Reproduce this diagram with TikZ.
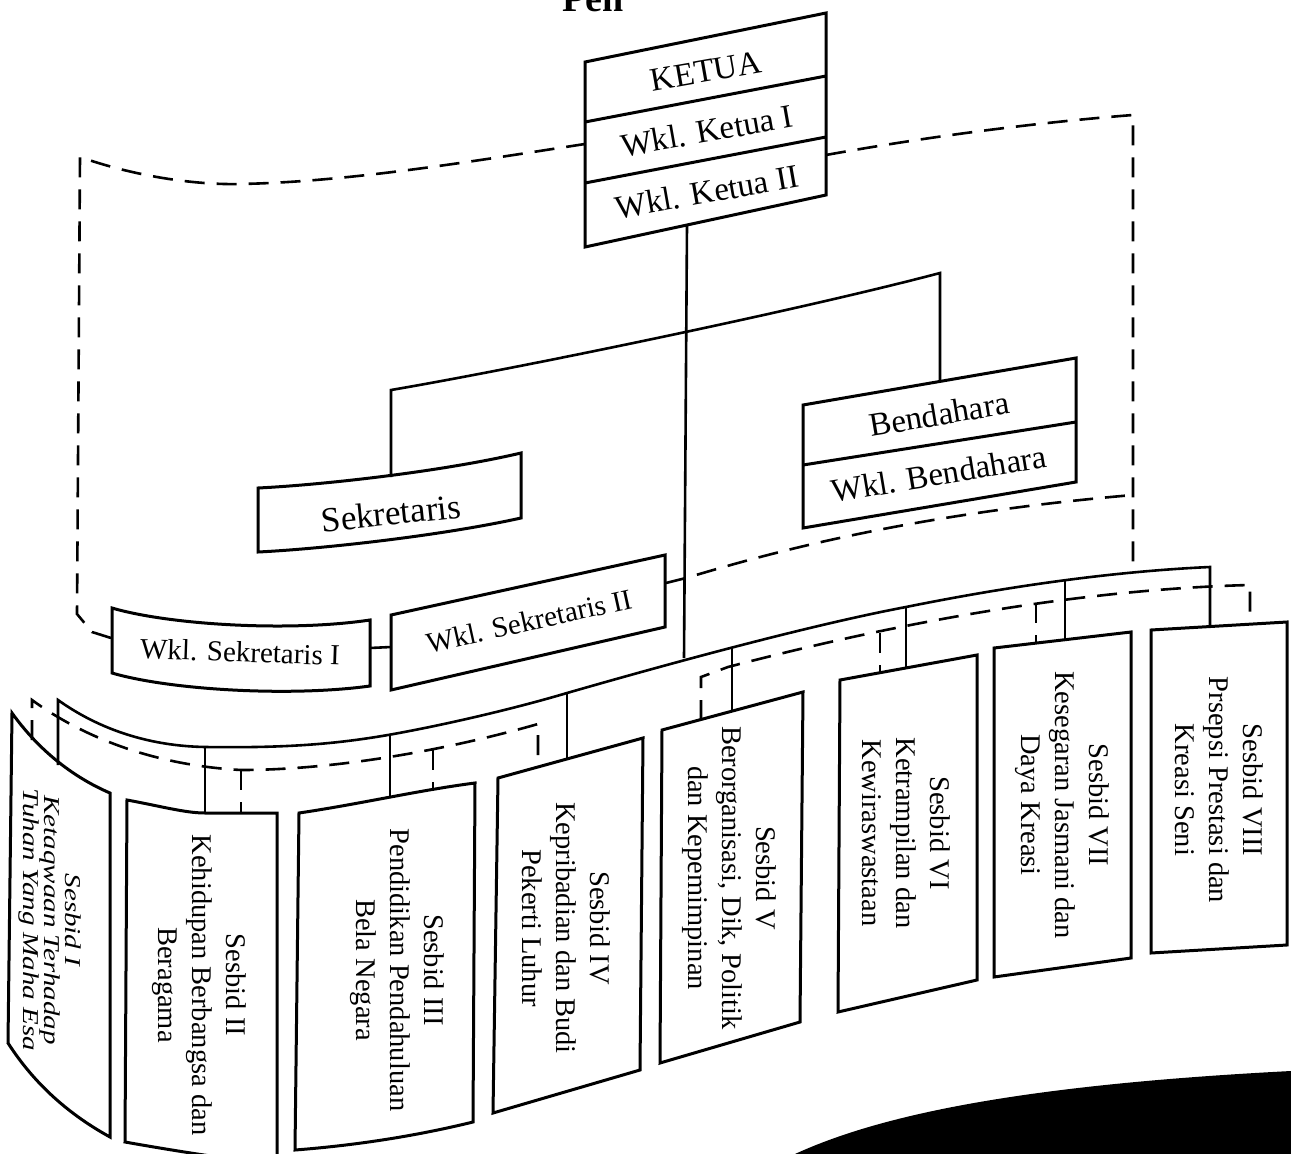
\documentclass[tikz,border=0pt]{standalone}
\usepackage{fontspec}
\setmainfont{Liberation Serif}
\newcommand\ftitle{\fontsize{38}{40}\selectfont\bfseries}
\newcommand\fketua{\fontsize{33}{36}\selectfont}
\newcommand\fsekr{\fontsize{35}{38}\selectfont}
\newcommand\fwsek{\fontsize{29}{32}\selectfont}
\newcommand\fses{\fontsize{28.5}{34}\selectfont}
\newcommand\fsesi{\fontsize{29}{27}\selectfont\itshape}
\begin{document}
\begin{tikzpicture}[x=1pt,y=-1pt,
  box/.style={line width=3pt, line join=miter},
  conn/.style={line width=2.6pt},
  dline/.style={line width=2.6pt, dash pattern=on 20pt off 12pt},
  lbl/.style={inner sep=0pt, align=center},
  seslbl/.style={lbl, rotate=-90, font=\fses}]
\useasboundingbox (0,0) rectangle (1291,1154);
\fill[white] (0,0) rectangle (1291,1154);

% title (cut by the top edge)
\node[anchor=base west, inner sep=0pt, font=\ftitle] (title) at (562,11) {Pen};

% ---------- KETUA ----------
\coordinate (kTL) at (585,62);  \coordinate (kTR) at (826,13);
\coordinate (kBR) at (826,195); \coordinate (kBL) at (585,247);
\draw[box] (kTL) -- (kTR) -- (kBR) -- (kBL) -- cycle;
\draw[box] (585,122) -- (826,76);
\draw[box] (585,183) -- (826,137);
\node[lbl, rotate=10, font=\fketua] (ketua) at (706,71) {KETUA};
\node[lbl, rotate=10, font=\fketua] (wk1) at (707,131) {Wkl. Ketua I};
\node[lbl, rotate=10, font=\fketua] (wk2) at (707,192) {Wkl. Ketua II};

% ---------- BENDAHARA ----------
\draw[box] (803,405) -- (1076,358) -- (1076,482) -- (803,528) -- cycle;
\draw[box] (803,465) -- (1076,422);
\node[lbl, rotate=9.5, font=\fketua] (bend) at (939,414) {Bendahara};
\node[lbl, rotate=9.5, font=\fketua] (wbend) at (939,474) {Wkl. Bendahara};

% ---------- SEKRETARIS ----------
\draw[box] (258,488) .. controls (320,485) and (440,472) .. (521,453)
  -- (521,518) .. controls (440,536) and (320,549) .. (258,552) -- cycle;
\node[lbl, rotate=6, font=\fsekr] (sek) at (391,513) {Sekretaris};

% ---------- WKL. SEKRETARIS I / II ----------
\draw[box] (112,608) .. controls (170,625) and (290,632) .. (370,620)
  -- (370,686) .. controls (290,697) and (170,690) .. (112,673) -- cycle;
\node[lbl, rotate=-2, font=\fwsek] (wsek1) at (240,652) {Wkl. Sekretaris I};
\draw[box] (391,615) -- (665,555) -- (665,627) -- (391,690) -- cycle;
\node[lbl, rotate=12.5, font=\fwsek] (wsek2) at (529,621) {Wkl. Sekretaris II};

% ---------- connectors (upper) ----------
\draw[conn] (687,225) -- (684,658);
\draw[conn, line join=miter] (391,477) -- (391,390)
  .. controls (520,368) and (800,310) .. (940,273) -- (940,381);
\draw[conn] (370,648) -- (391,647);

% dashed frame
\draw[dline] (111,638) -- (92,632) -- (77,614) -- (80,157)
  .. controls (140,178) and (200,185) .. (240,184)
  .. controls (350,182) and (480,160) .. (585,144);
\draw[dline] (826,155) .. controls (920,138) and (1030,123) .. (1133,115) -- (1133,563);
\draw[dline] (666,583) -- (686,578) .. controls (760,556) and (900,515) .. (1133,495);

% ---------- lower bus ----------
\draw[conn, line join=miter] (58,765) -- (58,700)
  .. controls (100,730) and (150,746) .. (205,747)
  .. controls (280,748) and (330,745) .. (388,735)
  .. controls (450,724) and (520,707) .. (567,693)
  .. controls (640,672) and (800,627) .. (906,607)
  .. controls (990,590) and (1100,572) .. (1210,567) -- (1210,627);
\draw[conn] (205,747) -- (205,813);
\draw[conn] (390,735) -- (390,798);
\draw[conn] (567,693) -- (567,758);
\draw[conn] (732,648) -- (732,711);
\draw[conn] (906,607) -- (906,668);
\draw[conn] (1065,580) -- (1065,640);

% dashed lower lines
\draw[dline] (32,740) -- (32,700) .. controls (80,735) and (150,765) .. (241,770)
  .. controls (330,770) and (440,752) .. (538,724) -- (538,767);
\draw[dline] (241,770) -- (241,813);
\draw[dline] (433,750) -- (433,790);
\draw[dline] (701,720) -- (701,677) -- (728,667)
  .. controls (850,635) and (1050,590) .. (1250,585) -- (1250,624);
\draw[dline] (880,633) -- (880,673);
\draw[dline] (1036,603) -- (1036,643);

% ---------- Sesbid boxes ----------
\draw[box] (12,713) .. controls (40,752) and (75,778) .. (110,793) -- (110,1137)
  .. controls (70,1115) and (35,1085) .. (8,1043) -- cycle;
\draw[box] (127,800) .. controls (160,806) and (185,813) .. (205,813) -- (277,813)
  -- (277,1165) .. controls (220,1158) and (170,1150) .. (125,1142) -- cycle;
\draw[box] (299,813) .. controls (360,804) and (420,790) .. (475,783) -- (473,1122)
  .. controls (420,1135) and (360,1145) .. (295,1150) -- cycle;
\draw[box] (498,778) -- (643,738) -- (640,1070) -- (493,1113) -- cycle;
\draw[box] (662,730) -- (803,692) -- (800,1022) -- (660,1063) -- cycle;
\draw[box] (840,680) -- (977,655) -- (977,980) -- (838,1012) -- cycle;
\draw[box] (994,648) -- (1131,632) -- (1131,958) -- (994,977) -- cycle;
\draw[box] (1151,630) -- (1287,622) -- (1287,945) -- (1151,953) -- cycle;

\node[lbl, rotate=-90, yscale=0.78, font=\fsesi] (s1) at (50,920) {Sesbid I\\Ketaqwaan Terhadap\\Tuhan Yang Maha Esa};
\node[seslbl] (s2) at (199,985) {Sesbid II\\Kehidupan Berbangsa dan\\Beragama};
\node[seslbl] (s3) at (397,970) {Sesbid III\\Pendidikan Pendahuluan\\Bela Negara};
\node[seslbl] (s4) at (566,928) {Sesbid IV\\Kepribadian dan Budi\\Pekerti Luhur};
\node[seslbl] (s5) at (729,878) {Sesbid V\\Berorganisasi, Dik, Politik\\dan Kepemimpinan};
\node[seslbl] (s6) at (906,833) {Sesbid VI\\Ketrampilan dan\\Kewiraswastaan};
\node[seslbl] (s7) at (1062,805) {Sesbid VII\\Kesegaran Jasmani dan\\Daya Kreasi};
\node[seslbl] (s8) at (1219,790) {Sesbid VIII\\Prsepsi Prestasi dan\\Kreasi Seni};

% black blob at the bottom right
\fill[black] (795,1154) .. controls (880,1115) and (1020,1085) .. (1291,1071)
  -- (1291,1154) -- cycle;
\end{tikzpicture}
\end{document}
